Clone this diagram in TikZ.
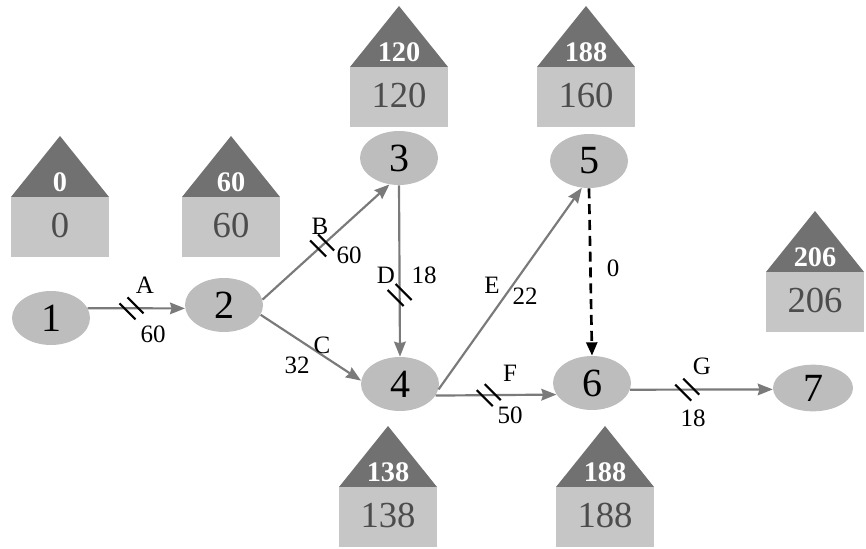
\documentclass[tikz,border=0pt]{standalone}
\usepackage{fontspec}
\setmainfont{Liberation Serif}
\usetikzlibrary{arrows.meta,shapes.geometric}
\definecolor{ellgray}{HTML}{BDBDBD}
\definecolor{roofgray}{HTML}{717171}
\definecolor{wallgray}{HTML}{C6C6C6}
\definecolor{edgegray}{HTML}{7A7A7A}
\tikzset{ev/.style={ellipse, fill=ellgray, minimum width=46.8pt, minimum height=32.4pt, inner sep=0pt, font=\fontsize{24}{24}\selectfont},
  act/.style={draw=edgegray, line width=1.3pt, -{Stealth[length=9pt,width=7pt,inset=1pt]}},
  dum/.style={draw=black, line width=1.6pt, dash pattern=on 6pt off 3.5pt, -{Triangle[length=8pt,width=6.5pt]}},
  lbl/.style={font=\fontsize{15}{15}\selectfont},
  rooftxt/.style={text=white, font=\fontsize{17}{17}\selectfont\bfseries},
  walltxt/.style={text=black!70, font=\fontsize{22}{22}\selectfont},
  brk/.pic={\draw[black, line width=1.3pt, -] (-12,-5) -- (4,11) (-4,-11) -- (12,5);}}
% house: name, x, y of eave, early time, late time
\newcommand\house[5]{%
  \fill[roofgray] (#2-49,#3) -- (#2,#3-61) -- (#2+49,#3) -- cycle;
  \fill[wallgray] (#2-49,#3) rectangle (#2+49,#3+60);
  \node[rooftxt] (#1t) at (#2,#3-15) {#4};
  \node[walltxt] (#1b) at (#2,#3+28) {#5};}

\begin{document}
\begin{tikzpicture}[x=0.6pt, y=-0.6pt]
  \useasboundingbox (0,0) rectangle (866,549);
  % event times
  \house{h1}{60}{197}{0}{0}
  \house{h2}{231}{197}{60}{60}
  \house{h3}{399}{67}{120}{120}
  \house{h5}{586}{67}{188}{160}
  \house{h7}{815}{272}{206}{206}
  \house{h4}{388}{487}{138}{138}
  \house{h6}{605}{487}{188}{188}
  % events
  \node[ev] (n1) at (51,318) {1};
  \node[ev] (n2) at (224,305) {2};
  \node[ev] (n3) at (399,158) {3};
  \node[ev] (n4) at (400,384) {4};
  \node[ev] (n5) at (589,161) {5};
  \node[ev] (n6) at (592,383) {6};
  \node[ev, minimum width=48pt, minimum height=28pt] (n7) at (813,388) {7};
  % activities
  \draw[act] (n1.15) -- (n2.185) pic[pos=.45]{brk};
  \draw[act] (n2.8) -- (n3.-110) pic[pos=.47]{brk};
  \draw[act] (n2.-15) -- (n4.175);
  \draw[act] (n3.south) -- (n4.north) pic[pos=.64]{brk};
  \draw[act] (n4.-8) -- (n5.-105);
  \draw[act] (n4.-18) -- (n6.-162) pic[pos=.44]{brk};
  \draw[dum] (n5.south) -- (n6.north);
  \draw[act] (n6.-10) -- (n7.182) pic[pos=.4]{brk};
  % labels
  \node[lbl] (la) at (145,285) {A};
  \node[lbl] (ta) at (153,334) {60};
  \node[lbl] (lb) at (320,226) {B};
  \node[lbl] (tb) at (349,255) {60};
  \node[lbl] (lc) at (322,345) {C};
  \node[lbl] (tc) at (297,365) {32};
  \node[lbl] (ld) at (386,275) {D};
  \node[lbl] (td) at (424,275) {18};
  \node[lbl] (le) at (492,285) {E};
  \node[lbl] (te) at (525,296) {22};
  \node[lbl] (t0) at (613,268) {0};
  \node[lbl] (lf) at (510,373) {F};
  \node[lbl] (tf) at (510,415) {50};
  \node[lbl] (lg) at (702,366) {G};
  \node[lbl] (tg) at (693,418) {18};
\end{tikzpicture}
\end{document}
